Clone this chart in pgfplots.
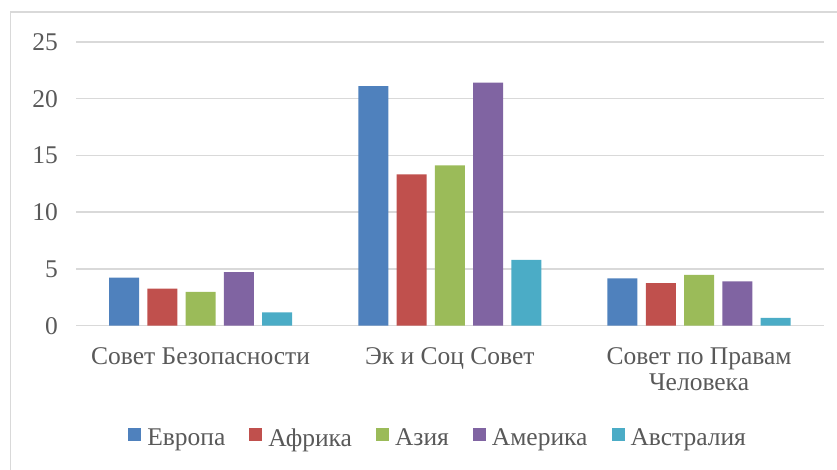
\documentclass[border=0pt]{standalone}
\usepackage{fontspec}
\setmainfont{Liberation Serif}
\usepackage{pgfplots}
\pgfplotsset{compat=1.18}

\definecolor{txt}{HTML}{595959}
\definecolor{grd}{HTML}{D9D9D9}
\definecolor{cEur}{HTML}{4F81BD}
\definecolor{cAfr}{HTML}{C0504D}
\definecolor{cAsi}{HTML}{9BBB59}
\definecolor{cAme}{HTML}{8064A2}
\definecolor{cAus}{HTML}{4BACC6}

\begin{document}
\begin{tikzpicture}
\path[use as bounding box] (0,0) rectangle (837pt,469pt);
\draw[grd, line width=1.2pt] (10.5pt,-5pt) |- (850pt,457pt);
\begin{axis}[
  at={(76pt,143.3pt)}, anchor=south west,
  scale only axis,
  width=747.7pt, height=283.7pt,
  ybar=8.3pt, bar width=30pt,
  xmin=-0.5, xmax=2.5,
  ymin=0, ymax=25,
  ytick={0,5,10,15,20,25},
  xtick={0,1,2},
  xticklabels={Совет Безопасности, Эк и Соц Совет, {Совет по Правам\\Человека}},
  axis line style={draw=none},
  major tick length=0pt,
  ymajorgrids,
  grid style={grd, line width=1.5pt},
  /pgf/number format/assume math mode=true,
  tick label style={font=\fontsize{25.5}{26}\selectfont, text=txt},
  yticklabel style={inner sep=0pt, xshift=-18pt},
  xticklabel style={align=center, inner sep=0pt, yshift=-22pt},
  legend columns=5,
  legend style={draw=none, at={(0.483,-0.396)}, anchor=center,
    font=\fontsize{25.5}{27}\selectfont, text=txt,
    inner sep=0pt, nodes={inner sep=0pt},
    /tikz/every odd column/.append style={column sep=6pt},
    /tikz/every even column/.append style={column sep=24pt}},
  legend image code/.code={\fill[#1] (0pt,-3pt) rectangle (13pt,10pt);},
]
\addplot[fill=cEur, draw=none] coordinates {(0,4.23) (1,21.12) (2,4.18)};
\addplot[fill=cAfr, draw=none] coordinates {(0,3.26) (1,13.34) (2,3.76)};
\addplot[fill=cAsi, draw=none] coordinates {(0,2.97) (1,14.13) (2,4.47)};
\addplot[fill=cAme, draw=none] coordinates {(0,4.73) (1,21.41) (2,3.91)};
\addplot[fill=cAus, draw=none] coordinates {(0,1.18) (1,5.79) (2,0.68)};
\legend{Европа, Африка, Азия, Америка, Австралия}
\end{axis}
\end{tikzpicture}
\end{document}
